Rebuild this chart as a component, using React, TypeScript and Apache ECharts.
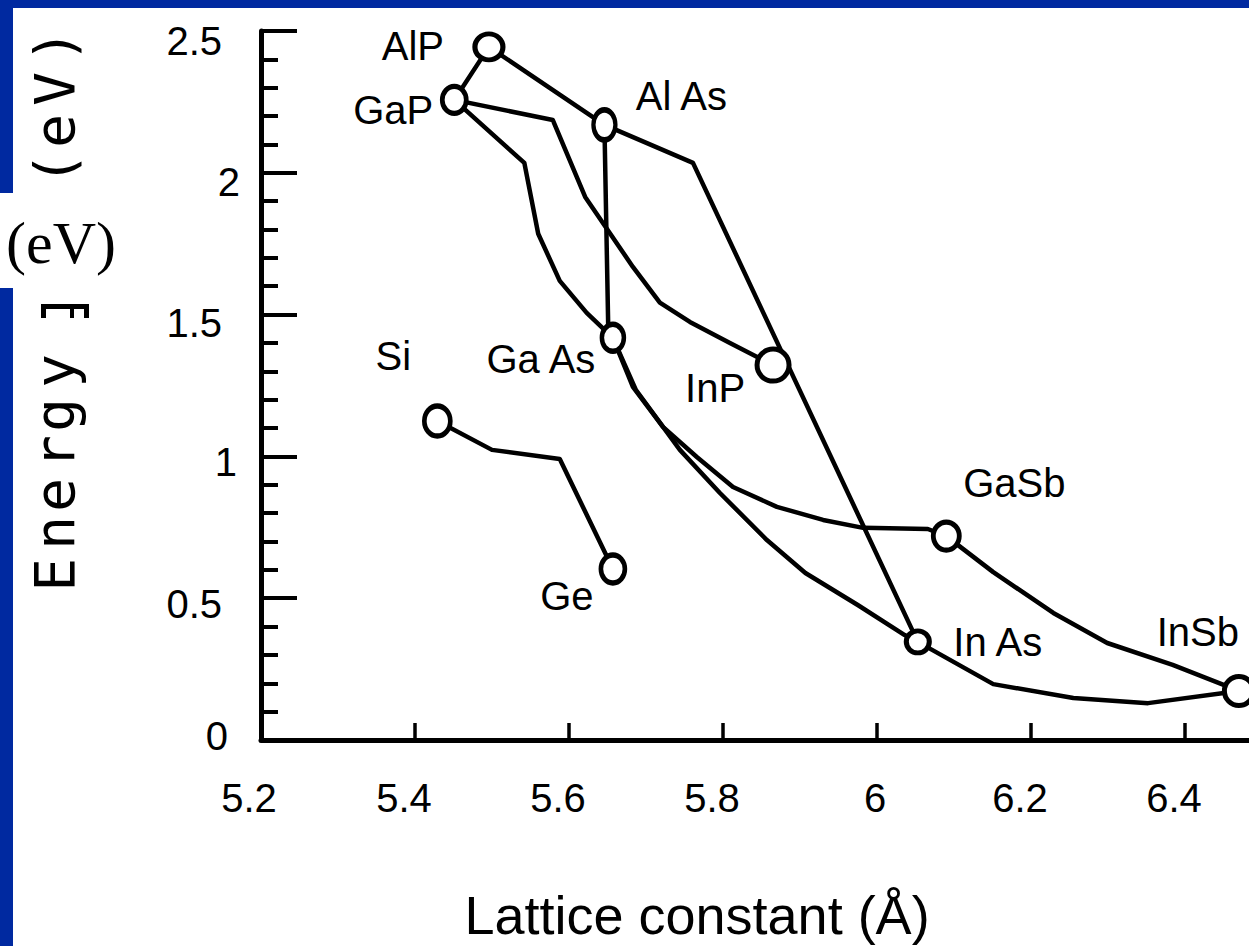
import React, { useEffect, useRef } from 'react';
import * as echarts from 'echarts';

// ---- Axis ticks ----
const xTickValues = [5.2, 5.4, 5.6, 5.8, 6.0, 6.2, 6.4];
const xTickLabels = ['5.2', '5.4', '5.6', '5.8', '6', '6.2', '6.4'];
const yTickValues = [0, 0.5, 1, 1.5, 2, 2.5];
const yTickLabels = ['0', '0.5', '1', '1.5', '2', '2.5'];

// ---- Binary compounds: lattice constant (Å) and energy gap (eV) ----
const compoundNames = ['AlP', 'GaP', 'AlAs', 'GaAs', 'InP', 'GaSb', 'InAs', 'InSb', 'Si', 'Ge'];
const compoundLabels = ['AlP', 'GaP', 'Al As', 'Ga As', 'InP', 'GaSb', 'In As', 'InSb', 'Si', 'Ge'];
const latticeConstant = [5.496, 5.451, 5.646, 5.657, 5.865, 6.09, 6.053, 6.47, 5.429, 5.657];
const energyGap = [2.444, 2.257, 2.169, 1.418, 1.322, 0.719, 0.346, 0.173, 1.125, 0.603];

// ---- Alloy curves [lattice constant, energy gap] ----
const curveAlPGaP = [[5.496, 2.444], [5.451, 2.257]];
const curveAlPAlAs = [[5.496, 2.444], [5.646, 2.169]];
const curveAlAsInAs = [[5.646, 2.169], [5.761, 2.035], [6.053, 0.346]];
const curveAlAsGaAs = [[5.646, 2.169], [5.651, 1.446], [5.657, 1.418]];
const curveGaPInP = [[5.451, 2.257], [5.579, 2.186], [5.621, 1.915], [5.683, 1.668], [5.718, 1.542], [5.757, 1.474], [5.809, 1.4], [5.865, 1.322]];
const curveGaPGaAs = [[5.451, 2.257], [5.542, 2.035], [5.56, 1.785], [5.588, 1.619], [5.623, 1.506], [5.657, 1.418]];
const curveGaAsGaSb = [[5.657, 1.418], [5.683, 1.245], [5.722, 1.104], [5.766, 0.998], [5.813, 0.892], [5.87, 0.822], [5.93, 0.776], [5.982, 0.748], [6.066, 0.744], [6.09, 0.719]];
const curveGaAsInAs = [[5.657, 1.418], [5.687, 1.234], [5.744, 1.023], [5.796, 0.871], [5.857, 0.705], [5.907, 0.589], [5.975, 0.476], [6.036, 0.37], [6.053, 0.346]];
const curveGaSbInSb = [[6.09, 0.719], [6.151, 0.592], [6.229, 0.448], [6.299, 0.342], [6.384, 0.265], [6.47, 0.173]];
const curveInAsInSb = [[6.053, 0.346], [6.151, 0.197], [6.255, 0.148], [6.352, 0.13], [6.47, 0.173]];
const curveSiGe = [[5.429, 1.125], [5.5, 1.023], [5.588, 0.991], [5.657, 0.603]];

const curves = [
  curveAlPGaP, curveAlPAlAs, curveAlAsInAs, curveAlAsGaAs, curveGaPInP, curveGaPGaAs,
  curveGaAsGaSb, curveGaAsInAs, curveGaSbInSb, curveInAsInSb, curveSiGe,
];

// ---- Styles (kept apart from data) ----
const BLUE = '#0029a0';
const SANS = '"Liberation Sans", Arial, sans-serif';
const markerSizes = [[28, 26], [24, 27], [22, 30], [22, 27], [32, 32], [26, 28], [23, 22], [29, 29], [26, 30], [24, 28]];
const labelOffsets = [[-76, -1], [-61, 10], [77, -29], [-72, 21], [-58, 23], [68, -53], [80, 0], [-41, -59], [-44, -65], [-46, 27]];
const xLabelPadding = [[0, 24, 0, 0], [0, 22, 0, 0], [0, 22, 0, 0], [0, 22, 0, 0], [0, 4, 0, 0], [0, 22, 0, 0], [0, 22, 0, 0]];
const yLabelPadding = [[0, 12, 8, 0], [12, 18, 0, 0], [12, 3, 0, 0], [16, 18, 0, 0], [18, 0, 0, 0], [20, 18, 0, 0]];
const ELLIPSE = 'path://M1,0C1.5523,0,2,0.4477,2,1C2,1.5523,1.5523,2,1,2C0.4477,2,0,1.5523,0,1C0,0.4477,0.4477,0,1,0Z';

// rotated bitmap-like axis title glyphs (reading bottom to top)
const rotatedGlyphs = [
  { ch: 'E', y: 575 }, { ch: 'n', y: 533 }, { ch: 'e', y: 495 }, { ch: 'r', y: 452 },
  { ch: 'g', y: 415 }, { ch: 'y', y: 371 },
  { ch: '(', y: 169 }, { ch: 'e', y: 131 }, { ch: 'V', y: 89 }, { ch: ')', y: 46 },
];

const GRID_LEFT = 261;
const GRID_TOP = 31;
const GRID_BOTTOM = 206;
const X_MIN = 5.2;
const X_MAX = 5.2 + (1249 - GRID_LEFT) / 770;

export default function App() {
  const ref = useRef<HTMLDivElement>(null);

  useEffect(() => {
    if (!ref.current) return;
    const chart = echarts.init(ref.current, null, { renderer: 'svg' });

    const xRich: Record<string, any> = {};
    xTickLabels.forEach((_, i) => {
      xRich['x' + i] = { fontSize: 40, fontFamily: SANS, color: '#000', padding: xLabelPadding[i] };
    });
    const yRich: Record<string, any> = {};
    yTickLabels.forEach((_, i) => {
      yRich['y' + i] = { fontSize: 40, fontFamily: SANS, color: '#000', padding: yLabelPadding[i] };
    });

    const lineSeries = curves.map((c) => ({
      type: 'line',
      data: c,
      showSymbol: false,
      symbol: 'none',
      silent: true,
      z: 2,
      lineStyle: { color: '#000', width: 4.5, join: 'round', cap: 'round' },
    }));

    const scatterData = compoundNames.map((name, i) => ({
      name,
      value: [latticeConstant[i], energyGap[i]],
      symbolSize: markerSizes[i],
      label: {
        show: true,
        position: 'inside',
        offset: labelOffsets[i],
        formatter: compoundLabels[i],
        fontSize: 40,
        fontFamily: SANS,
        color: '#000',
        textBorderWidth: 0,
        textBorderColor: 'transparent',
        align: 'center',
        verticalAlign: 'middle',
      },
    }));

    const graphic: any[] = [
      { type: 'rect', shape: { x: 0, y: 0, width: 1249, height: 8 }, style: { fill: BLUE }, silent: true },
      { type: 'rect', shape: { x: 0, y: 0, width: 13, height: 193 }, style: { fill: BLUE }, silent: true },
      { type: 'rect', shape: { x: 0, y: 288, width: 13, height: 658 }, style: { fill: BLUE }, silent: true },
      // partial glyph
      { type: 'rect', shape: { x: 41, y: 304, width: 48, height: 5 }, style: { fill: '#000' }, silent: true },
      { type: 'rect', shape: { x: 41, y: 304, width: 5, height: 14 }, style: { fill: '#000' }, silent: true },
      { type: 'rect', shape: { x: 70, y: 304, width: 4, height: 14 }, style: { fill: '#000' }, silent: true },
      { type: 'rect', shape: { x: 84, y: 304, width: 5, height: 14 }, style: { fill: '#000' }, silent: true },
      {
        type: 'text', x: 61, y: 243, silent: true,
        style: {
          text: '(eV)', fontSize: 60, fontFamily: '"Liberation Serif", "Times New Roman", serif', fill: '#000',
          align: 'center', verticalAlign: 'middle', textAlign: 'center', textVerticalAlign: 'middle',
        },
      },
      {
        type: 'text', x: 697, y: 915, silent: true,
        style: {
          text: 'Lattice constant (Å)', fontSize: 54, fontFamily: SANS, fill: '#000',
          align: 'center', verticalAlign: 'middle', textAlign: 'center', textVerticalAlign: 'middle',
        },
      },
      ...rotatedGlyphs.map((g) => ({
        type: 'text', x: 54, y: g.y, rotation: Math.PI / 2, silent: true,
        style: {
          text: g.ch, fontSize: 56, fontFamily: '"DejaVu Sans Mono", monospace', fill: '#000',
          align: 'center', verticalAlign: 'middle', textAlign: 'center', textVerticalAlign: 'middle',
        },
      })),
    ];

    const option: any = {
      animation: false,
      backgroundColor: '#fff',
      grid: {
        left: GRID_LEFT, right: 0, top: GRID_TOP, bottom: GRID_BOTTOM,
        containLabel: false, outerBoundsMode: 'none',
      },
      xAxis: {
        type: 'value',
        min: X_MIN,
        max: X_MAX,
        interval: 0.2,
        axisLine: { show: true, onZero: false, lineStyle: { color: '#000', width: 5 } },
        axisTick: {
          show: true, inside: true, length: 17,
          lineStyle: { color: '#000', width: 3.5 },
          customValues: xTickValues.slice(1),
        },
        axisLabel: {
          customValues: xTickValues,
          margin: 38,
          fontSize: 40,
          fontFamily: SANS,
          color: '#000',
          formatter: (v: number) => {
            const i = xTickValues.findIndex((t) => Math.abs(t - v) < 1e-6);
            if (i < 0) return '';
            return '{x' + i + '|' + xTickLabels[i] + '}';
          },
          rich: xRich,
        },
        splitLine: { show: false },
      },
      yAxis: {
        type: 'value',
        min: 0,
        max: 2.5,
        interval: 0.5,
        axisLine: { show: true, onZero: false, lineStyle: { color: '#000', width: 5 } },
        axisTick: { show: true, inside: true, length: 36, lineStyle: { color: '#000', width: 4 } },
        minorTick: { show: true, splitNumber: 5, length: 17, lineStyle: { color: '#000', width: 4 } },
        axisLabel: {
          margin: 21,
          fontSize: 40,
          fontFamily: SANS,
          color: '#000',
          formatter: (v: number) => {
            const i = yTickValues.findIndex((t) => Math.abs(t - v) < 1e-6);
            if (i < 0) return '';
            return '{y' + i + '|' + yTickLabels[i] + '}';
          },
          rich: yRich,
        },
        splitLine: { show: false },
        minorSplitLine: { show: false },
      },
      series: [
        ...lineSeries,
        {
          type: 'scatter',
          z: 3,
          symbol: ELLIPSE,
          symbolKeepAspect: false,
          itemStyle: { color: '#fff', borderColor: '#000', borderWidth: 5, opacity: 1 },
          data: scatterData,
        },
      ],
      graphic,
    };

    chart.setOption(option);
    return () => chart.dispose();
  }, []);

  return (
    <div
      ref={ref}
      style={{ position: 'fixed', left: 0, top: 0, width: 1249, height: 946, background: '#fff' }}
    />
  );
}
